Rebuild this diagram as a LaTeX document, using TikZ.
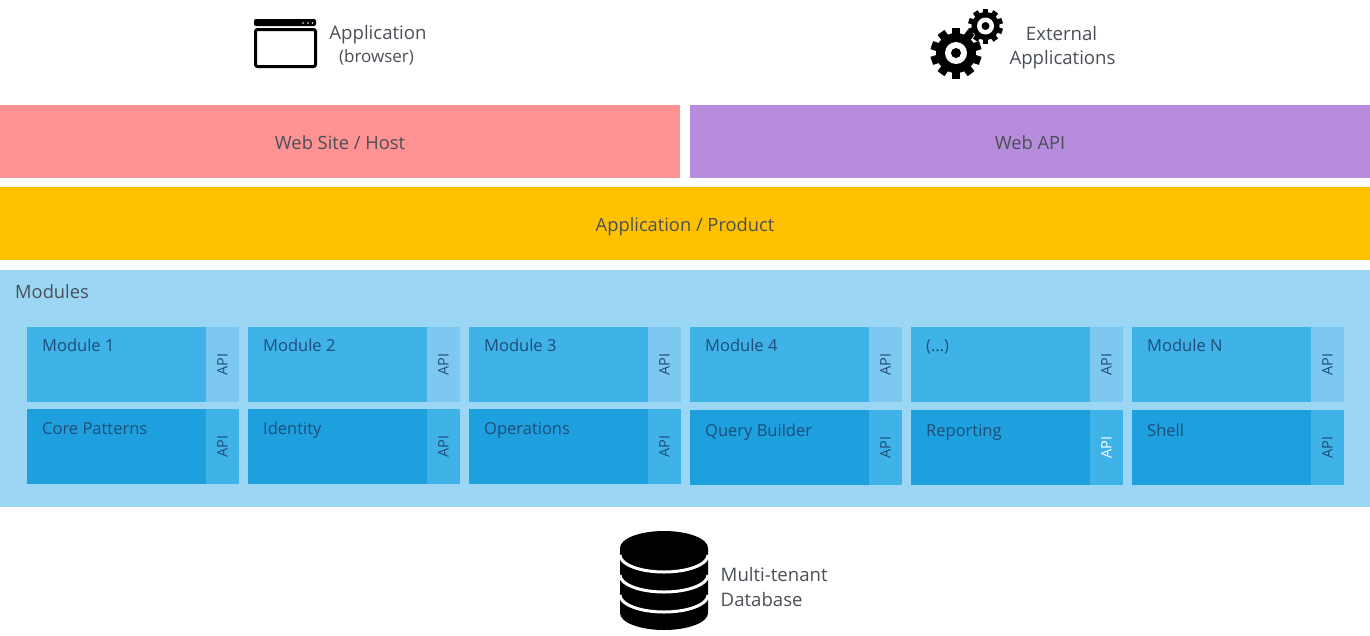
\documentclass[tikz,border=0pt]{standalone}
\usepackage{fontspec}
\setmainfont{Open Sans}
\begin{document}
\begin{tikzpicture}[x=1pt,y=-1pt,
    boxShape/.style={rectangle,inner sep=0pt,outer sep=0pt,anchor=north west},
    bandText/.style={font=\fontsize{18.3}{22}\selectfont,text=textDark},
    iconText/.style={font=\fontsize{18.6}{22}\selectfont,text=textDark},
    tileText/.style={font=\fontsize{16.5}{20}\selectfont,text=textBlue,anchor=base west,inner sep=0pt},
    apiText/.style={font=\fontsize{14.5}{16}\selectfont,rotate=90,inner sep=0pt}]
    \definecolor{textDark}{HTML}{4A4F57}
    \definecolor{textBlue}{HTML}{1F4E79}
    \definecolor{fillColourHost}{HTML}{FF9393}
    \definecolor{fillColourApi}{HTML}{B78CDC}
    \definecolor{fillColourProduct}{HTML}{FFC000}
    \definecolor{fillColourModules}{HTML}{9BD7F5}
    \definecolor{fillColourTile}{HTML}{3FB2E8}
    \definecolor{fillColourTileApi}{HTML}{7CC8F0}
    \definecolor{fillColourCore}{HTML}{1EA0DE}
    \definecolor{fillColourCoreApi}{HTML}{3FB2E8}

    \useasboundingbox (0,0) rectangle (1370,635);

    % Draw bands
    \node[boxShape,fill=fillColourHost,minimum width=680pt,minimum height=73pt] (host) at (0,105) {};
    \node[boxShape,fill=fillColourApi,minimum width=680pt,minimum height=73pt] (webapi) at (690,105) {};
    \node[boxShape,fill=fillColourProduct,minimum width=1370pt,minimum height=73pt] (product) at (0,187) {};
    \node[boxShape,fill=fillColourModules,minimum width=1370pt,minimum height=237pt] (modules) at (0,270) {};
    \node[bandText] (hostLabel) at (340,143) {Web Site / Host};
    \node[bandText] (webapiLabel) at (1030,143) {Web API};
    \node[bandText] (productLabel) at (685,227) {Application / Product};
    \node[bandText,anchor=base west,inner sep=0pt] (modulesLabel) at (15,298) {Modules};

    % Upper row of tiles
    \foreach \n/\x/\name in {1/27/Module 1,2/248/Module 2,3/469/Module 3,4/690/Module 4,5/911/(…),6/1132/Module N} {
        \node[boxShape,fill=fillColourTile,minimum width=179pt,minimum height=75pt] (tile\n) at (\x,327) {};
        \node[boxShape,fill=fillColourTileApi,minimum width=33pt,minimum height=75pt] (tileApi\n) at (\x+179,327) {};
        \node[tileText] (tileLabel\n) at (\x+15,351) {\name};
        \node[apiText,text=textBlue] at (tileApi\n.center) {API};
    }

    % Lower row of tiles, the last three sit 1px lower
    \foreach \n/\x/\y/\base/\name/\apiColour in {1/27/409/434/Core Patterns/textBlue,2/248/409/434/Identity/textBlue,3/469/409/434/Operations/textBlue,4/690/410/436/Query Builder/textBlue,5/911/410/436/Reporting/white,6/1132/410/436/Shell/textBlue} {
        \node[boxShape,fill=fillColourCore,minimum width=179pt,minimum height=75pt] (core\n) at (\x,\y) {};
        \node[boxShape,fill=fillColourCoreApi,minimum width=33pt,minimum height=75pt] (coreApi\n) at (\x+179,\y) {};
        \node[tileText] (coreLabel\n) at (\x+15,\base) {\name};
        \node[apiText,text=\apiColour] at (coreApi\n.center) {API};
    }

    % Browser icon
    \fill[black,rounded corners=2pt] (254,19) rectangle (316,26);
    \fill[white] (303,23) circle (0.9) (308,23) circle (0.9) (312.5,23) circle (0.9);
    \draw[black,line width=3pt,rounded corners=2pt] (255.5,29.5) rectangle (315.5,66.5);
    \node[iconText] (appLabel) at (378,35) {Application};
    \node[iconText,font=\fontsize{17}{20}\selectfont] (browserLabel) at (376.5,57.5) {(browser)};

    % Gear icons
    \foreach \cx/\cy/\r/\t/\hole/\dot in {956/53/20/6/11/5,985.5/26/14/4/8.5/4} {
        \fill[black] (\cx,\cy) circle (\r);
        \foreach \a in {0,36,...,324}
            \fill[black,rotate around={\a:(\cx,\cy)}] (\cx-\t*0.7,\cy-\r-\t+0.5) rectangle (\cx+\t*0.7,\cy-\r+1);
        \fill[white] (\cx,\cy) circle (\hole);
        \fill[black] (\cx,\cy) circle (\dot);
    }
    \node[iconText] (externalLabel) at (1061.5,34) {External};
    \node[iconText] (applicationsLabel) at (1062.5,60) {Applications};

    % Database icon
    \fill[black] (620,548) arc[start angle=180,end angle=360,x radius=44,y radius=17]
        -- (708,613) arc[start angle=0,end angle=-180,x radius=44,y radius=-17] -- cycle;
    \foreach \y in {555,575,595}
        \draw[white,line width=3pt] (620,\y) arc[start angle=180,end angle=360,x radius=44,y radius=-17];
    \node[iconText,anchor=base west,inner sep=0pt] (tenantLabel) at (720.5,581) {Multi-tenant};
    \node[iconText,anchor=base west,inner sep=0pt] (databaseLabel) at (720.5,606) {Database};
\end{tikzpicture}
\end{document}
